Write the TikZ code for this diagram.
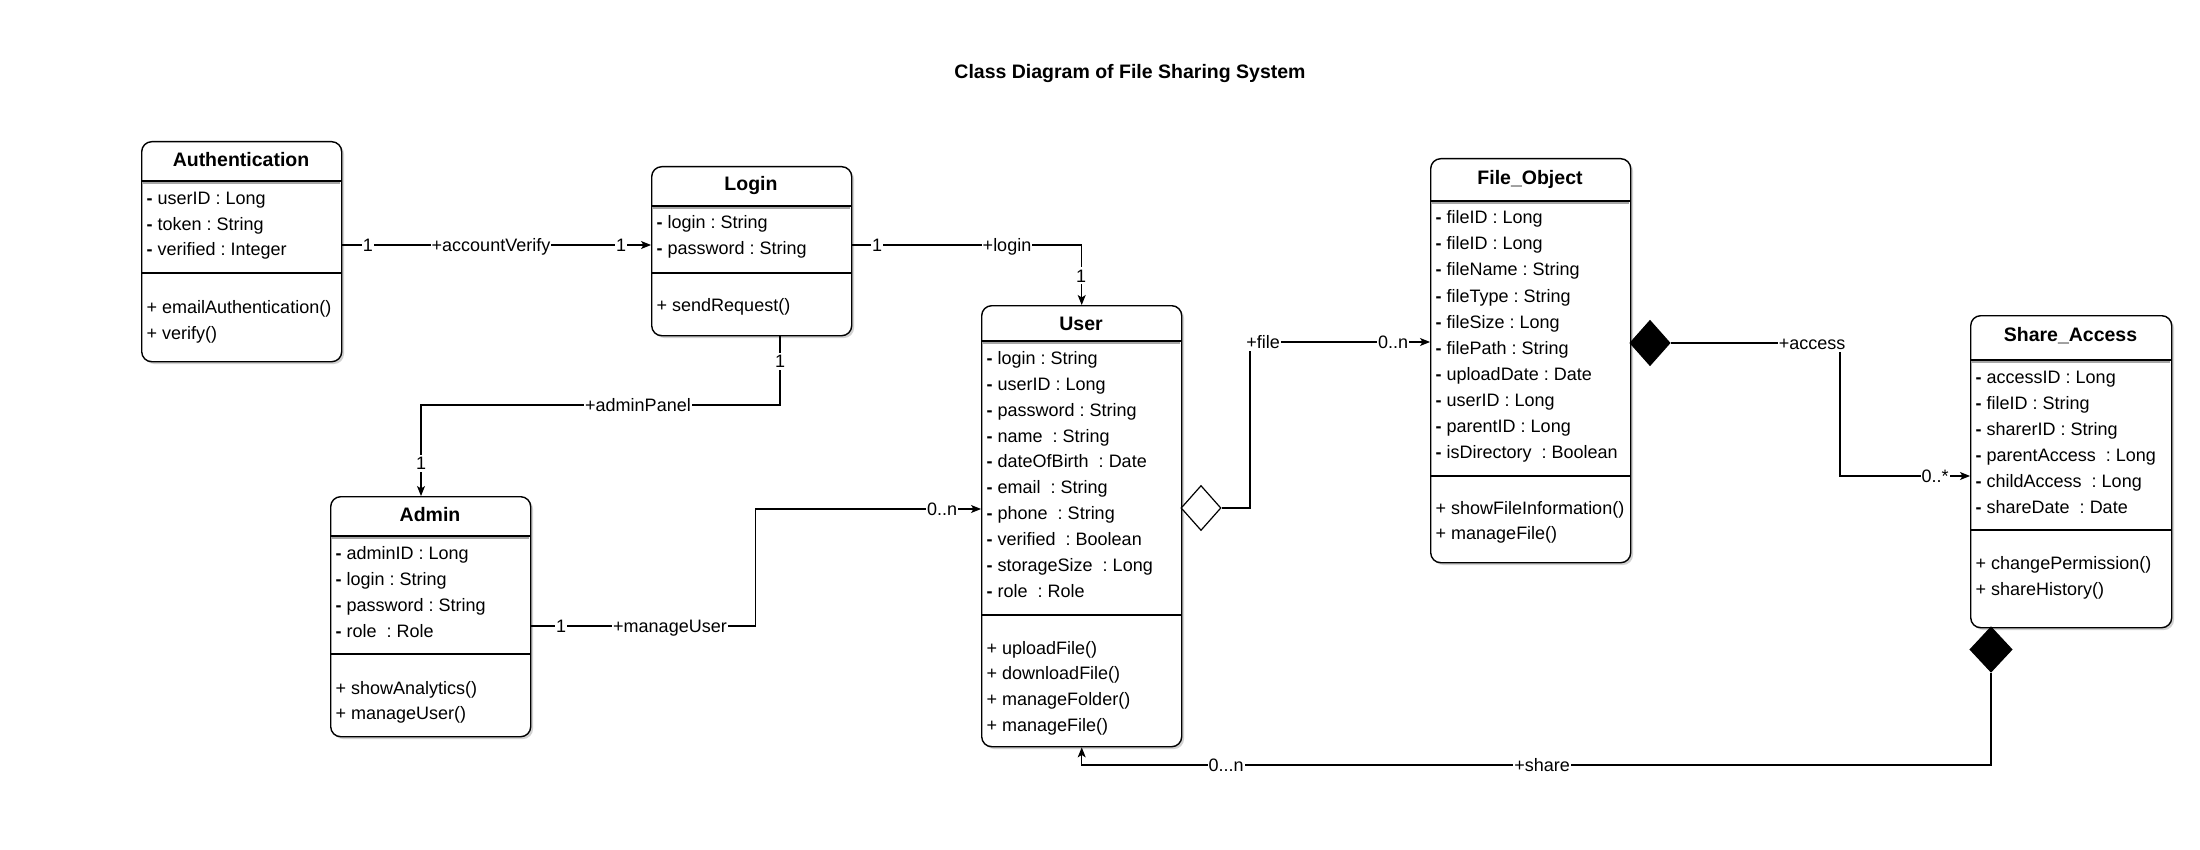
\documentclass[tikz,border=0pt]{standalone}
\usepackage{fontspec}
\setmainfont{Liberation Sans}
\usetikzlibrary{arrows.meta,shapes.geometric}
\newcommand\mydash{\textbf{-}}
\frenchspacing
\begin{document}
\frenchspacing
\begin{tikzpicture}[x=1pt,y=-1pt,
  cls/.style={draw, line width=1.4pt, rounded corners=10pt, anchor=north west, inner sep=0pt, fill=white},
  shad/.style={fill=black!18, rounded corners=10pt},
  ttl/.style={anchor=base, font=\fontsize{19.5}{22}\selectfont\bfseries, inner sep=0pt},
  attr/.style={anchor=base west, font=\fontsize{18}{21}\selectfont, inner sep=0pt},
  sep/.style={line width=1.4pt},
  sepg/.style={line width=2pt, draw=black!35},
  conn/.style={line width=1.1pt},
  arr/.style={conn, -{Stealth[length=10pt,width=8pt,inset=2.5pt]}},
  lbl/.style={fill=white, font=\fontsize{18}{21}\selectfont, inner xsep=1pt, inner ysep=2pt, text height=13pt, text depth=0pt},
  dia/.style={diamond, draw, line width=1.2pt, minimum width=40pt, minimum height=45pt, inner sep=0pt},
]
\fill[white] (0,0) rectangle (2200,850);
\useasboundingbox (0,0) rectangle (2200,850);

\node[ttl] (title) at (1130,78.7) {Class Diagram of File Sharing System};

% shadows
\foreach \x/\y/\w/\h in {141/141/200/220, 651/166/200/169, 981/305/200/441, 330/496/200/240, 1430/158/200/404, 1970/315/201/312}
  \fill[shad] ({\x+3},{\y+3}) rectangle ++(\w,\h);

% ---------- Authentication ----------
\node[cls, minimum width=200pt, minimum height=220pt] (auth) at (141,141) {};
\draw[sepg] (141.7,182.8) -- (340.3,182.8);
\draw[sep] (auth.west |- 0,181) -- (auth.east |- 0,181);
\draw[sep] (auth.west |- 0,273) -- (auth.east |- 0,273);
\node[ttl] (auth-t) at (241,167) {Authentication};
\foreach \t [count=\i from 0] in {\mydash{} userID : Long, \mydash{} token : String, \mydash{} verified : Integer}
  \node[attr] (auth-a\i) at (146.5,{205+25.3*\i}) {\t};
\node[attr] (auth-m1) at (146.5,313) {+ emailAuthentication()};
\node[attr] (auth-m2) at (146.5,339) {+ verify()};

% ---------- Login ----------
\node[cls, minimum width=200pt, minimum height=169pt] (login) at (651,166) {};
\draw[sepg] (651.7,207.8) -- (850.3,207.8);
\draw[sep] (login.west |- 0,206) -- (login.east |- 0,206);
\draw[sep] (login.west |- 0,273) -- (login.east |- 0,273);
\node[ttl] (login-t) at (751,191) {Login};
\node[attr] (login-a0) at (656.5,229) {\mydash{} login : String};
\node[attr] (login-a1) at (656.5,255) {\mydash{} password : String};
\node[attr] (login-m1) at (656.5,311.5) {+ sendRequest()};

% ---------- User ----------
\node[cls, minimum width=200pt, minimum height=441pt] (user) at (981,305) {};
\draw[sepg] (981.7,342.8) -- (1180.3,342.8);
\draw[sep] (user.west |- 0,341) -- (user.east |- 0,341);
\draw[sep] (user.west |- 0,615) -- (user.east |- 0,615);
\node[ttl] (user-t) at (1081,330) {User};
\foreach \t [count=\i from 0] in {\mydash{} login : String, \mydash{} userID : Long, \mydash{} password : String, \mydash{} name~ : String, \mydash{} dateOfBirth~ : Date, \mydash{} email~ : String, \mydash{} phone~ : String, \mydash{} verified~ : Boolean, \mydash{} storageSize~ : Long, \mydash{} role~ : Role}
  \node[attr] (user-a\i) at (986.5,{364.3+25.9*\i}) {\t};
\foreach \t [count=\i from 0] in {+ uploadFile(), + downloadFile(), + manageFolder(), + manageFile()}
  \node[attr] (user-m\i) at (986.5,{654.3+25.6*\i}) {\t};

% ---------- Admin ----------
\node[cls, minimum width=200pt, minimum height=240pt] (admin) at (330,496) {};
\draw[sepg] (330.7,537.8) -- (529.3,537.8);
\draw[sep] (admin.west |- 0,536) -- (admin.east |- 0,536);
\draw[sep] (admin.west |- 0,654) -- (admin.east |- 0,654);
\node[ttl] (admin-t) at (430,521) {Admin};
\foreach \t [count=\i from 0] in {\mydash{} adminID : Long, \mydash{} login : String, \mydash{} password : String, \mydash{} role~ : Role}
  \node[attr] (admin-a\i) at (335.5,{559+26*\i}) {\t};
\node[attr] (admin-m1) at (335.5,694) {+ showAnalytics()};
\node[attr] (admin-m2) at (335.5,719) {+ manageUser()};

% ---------- File_Object ----------
\node[cls, minimum width=200pt, minimum height=404pt] (file) at (1430,158) {};
\draw[sepg] (1430.7,202.8) -- (1629.3,202.8);
\draw[sep] (file.west |- 0,201) -- (file.east |- 0,201);
\draw[sep] (file.west |- 0,476) -- (file.east |- 0,476);
\node[ttl] (file-t) at (1530,184.5) {File\_Object};
\foreach \t [count=\i from 0] in {\mydash{} fileID : Long, \mydash{} fileID : Long, \mydash{} fileName : String, \mydash{} fileType : String, \mydash{} fileSize : Long, \mydash{} filePath : String, \mydash{} uploadDate : Date, \mydash{} userID : Long, \mydash{} parentID : Long, \mydash{} isDirectory~ : Boolean}
  \node[attr] (file-a\i) at (1435.5,{224+26*\i}) {\t};
\node[attr] (file-m1) at (1435.5,514) {+ showFileInformation()};
\node[attr] (file-m2) at (1435.5,539) {+ manageFile()};

% ---------- Share_Access ----------
\node[cls, minimum width=201pt, minimum height=312pt] (share) at (1970,315) {};
\draw[sepg] (1970.7,361.8) -- (2170.3,361.8);
\draw[sep] (share.west |- 0,360) -- (share.east |- 0,360);
\draw[sep] (share.west |- 0,530) -- (share.east |- 0,530);
\node[ttl] (share-t) at (2070.5,341) {Share\_Access};
\foreach \t [count=\i from 0] in {\mydash{} accessID : Long, \mydash{} fileID : String, \mydash{} sharerID : String, \mydash{} parentAccess~ : Long, \mydash{} childAccess~ : Long, \mydash{} shareDate~ : Date}
  \node[attr] (share-a\i) at (1975.5,{383+26*\i}) {\t};
\node[attr] (share-m1) at (1975.5,569) {+ changePermission()};
\node[attr] (share-m2) at (1975.5,595) {+ shareHistory()};

% ---------- connectors ----------
\draw[arr] (auth.east |- 0,245) -- (login.west |- 0,245);
\draw[arr] (login.east |- 0,245) -| (user.north);
\draw[arr] (login.south -| 780,0) -- (780,405) -| (admin.north -| 421,0);
\draw[arr] (admin.east |- 0,626) -- (755.5,626) |- (user.west |- 0,509);
\node[dia, fill=white] (agg) at (1201,508) {};
\draw[arr] (agg.east) -- (1250,508) |- (file.west |- 0,342);
\node[dia, fill=black] (comp1) at (1650,343) {};
\draw[arr] (comp1.east) -- (1840,343) |- (share.west |- 0,476);
\node[dia, fill=black, minimum width=42pt] (comp2) at (1991,649.5) {};
\draw[arr] (comp2.south) -- (1991,765) -| (user.south);

% ---------- labels ----------
\node[lbl] (l-av1) at (368,245) {1};
\node[lbl] (l-av) at (491,245) {+accountVerify};
\node[lbl] (l-av2) at (621,245) {1};
\node[lbl] (l-lg1) at (877,245) {1};
\node[lbl] (l-lg) at (1007,245) {+login};
\node[lbl] (l-lg2) at (1081,276) {1};
\node[lbl] (l-ap1) at (780,361) {1};
\node[lbl] (l-ap) at (638,405) {+adminPanel};
\node[lbl] (l-ap2) at (421,463) {1};
\node[lbl] (l-mu1) at (561,626) {1};
\node[lbl] (l-mu) at (670,626) {+manageUser};
\node[lbl] (l-mu2) at (942,509) {0..n};
\node[lbl] (l-fi) at (1263,342) {+file};
\node[lbl] (l-fi2) at (1393,342) {0..n};
\node[lbl] (l-ac) at (1812,343) {+access};
\node[lbl] (l-ac2) at (1935,476) {0..*};
\node[lbl] (l-sh2) at (1226,765) {0...n};
\node[lbl] (l-sh) at (1542,765) {+share};
\end{tikzpicture}
\end{document}
